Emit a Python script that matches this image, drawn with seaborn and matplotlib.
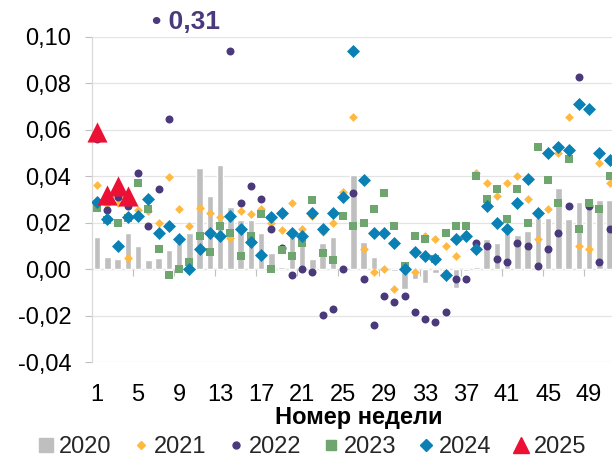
import numpy as np
import pandas as pd
import matplotlib
matplotlib.use("Agg")
import matplotlib.pyplot as plt
from matplotlib.lines import Line2D
from matplotlib.ticker import FuncFormatter
import seaborn as sns

nan = np.nan
weeks = list(range(1, 52))

y2020 = [0.014, 0.005, 0.0045, 0.0155, 0.010, 0.004, 0.0047, 0.008, 0.011, 0.0157,
         0.0433, 0.0315, 0.0447, 0.0265, 0.021, 0.021, 0.0157, 0.007, 0.001, 0.014,
         0.0126, 0.0043, 0.011, 0.014, 0.001, 0.0403, 0.0116, 0.005, 0.001, -0.001,
         -0.0086, -0.0043, -0.006, -0.0015, -0.001, -0.008, -0.001, 0.001, 0.0129, 0.011,
         0.0165, 0.0147, 0.0165, 0.0219, 0.0219, 0.035, 0.0215, 0.0289, 0.0298, 0.0298,
         0.0298]

y2021 = [0.036, 0.028, 0.0283, 0.0046, 0.0254, 0.025, 0.020, 0.0397, 0.026, 0.0186,
         0.0262, 0.024, 0.0226, 0.0133, 0.0252, 0.0237, 0.0258, 0.020, 0.0166, 0.0286,
         0.0172, 0.023, 0.016, 0.020, 0.033, 0.0655, 0.0086, -0.0014, 0.0, -0.0086,
         0.001, -0.0014, 0.0143, 0.0129, 0.010, 0.0057, 0.015, 0.0415, 0.0372, 0.0315,
         0.0372, 0.040, 0.030, 0.0129, 0.0258, 0.050, 0.0655, 0.010, 0.0086, 0.0455,
         0.0369]

y2022 = [0.056, 0.0254, 0.0312, 0.0272, 0.0415, 0.0186, 0.0343, 0.0644, 0.31, nan,
         nan, nan, nan, 0.0939, 0.0286, 0.0358, 0.030, 0.0172, 0.009, -0.0027,
         0.0, -0.0014, -0.0199, -0.017, 0.0, 0.0329, -0.0043, -0.0242, -0.0114, -0.014,
         -0.0114, -0.0186, -0.0215, -0.0229, -0.0186, -0.0043, -0.0043, 0.0114, 0.010, 0.0043,
         0.0029, 0.0114, 0.010, 0.0014, 0.0086, 0.0157, 0.0272, 0.0827, 0.0272, 0.0029,
         0.0172]

y2023 = [0.0264, 0.021, 0.020, 0.022, 0.037, 0.0257, 0.0087, -0.0026, 0.0, 0.003,
         0.0143, 0.0072, 0.0186, 0.0157, 0.0057, 0.0143, 0.0239, 0.0, 0.008, 0.0057,
         0.0114, 0.0298, 0.007, 0.0037, 0.0229, 0.0186, 0.020, 0.0258, 0.0329, 0.0186,
         0.0014, 0.0143, 0.0129, 0.0043, 0.0157, 0.0186, 0.0186, 0.040, 0.030, 0.0343,
         0.0215, 0.0343, 0.020, 0.0526, 0.0383, 0.0286, 0.0472, 0.0172, 0.0286, 0.0258,
         0.040]

y2024 = [0.029, 0.0217, 0.010, 0.0226, 0.0229, 0.030, 0.0157, 0.0186, 0.013, 0.0,
         0.0086, 0.0157, 0.0143, 0.0229, 0.0172, 0.0116, 0.0059, 0.0226, 0.0243, 0.0157,
         0.0143, 0.0243, 0.0172, 0.0243, 0.0312, 0.0938, 0.0383, 0.0157, 0.0157, 0.0114,
         0.0, 0.0072, 0.0057, 0.0043, -0.0025, 0.0129, 0.0143, 0.0086, 0.0272, 0.020,
         0.0172, 0.0286, 0.0386, 0.024, 0.0498, 0.0526, 0.0512, 0.0712, 0.0687, 0.050,
         0.0469]

weeks2025 = [1, 2, 3, 4]
y2025 = [0.059, 0.032, 0.0357, 0.0313]

xtick_labels = [1, 5, 9, 13, 17, 21, 25, 29, 33, 37, 41, 45, 49]
yticks = [-0.04, -0.02, 0.0, 0.02, 0.04, 0.06, 0.08, 0.10]
outlier_label = "• 0,31"
xlabel = "Номер недели"

C2020 = "#BFBFBF"
C2021 = "#FFB840"
C2022 = "#4A3A7C"
C2023 = "#6FA56E"
C2024 = "#0A80B4"
C2025 = "#EC1134"

sns.set_theme(style="white")
plt.rcParams["font.family"] = ["Liberation Sans", "DejaVu Sans"]

fig = plt.figure(figsize=(6.12, 4.61), dpi=100)
ax = fig.add_axes([92 / 612, 1 - 362 / 461, 533 / 612, (362 - 36.7) / 461])

sns.barplot(x=weeks, y=y2020, native_scale=True, color=C2020, saturation=1,
            width=0.65, errorbar=None, ax=ax, zorder=2)
sns.scatterplot(x=weeks, y=y2021, marker="D", s=20, color=C2021, linewidth=0, ax=ax, zorder=3)
sns.scatterplot(x=weeks, y=y2022, marker="o", s=33, color=C2022, linewidth=0, ax=ax, zorder=4)
sns.scatterplot(x=weeks, y=y2023, marker="s", s=38, color=C2023, linewidth=0, ax=ax, zorder=5)
sns.scatterplot(x=weeks, y=y2024, marker="D", s=44, color=C2024, linewidth=0, ax=ax, zorder=6)
sns.scatterplot(x=weeks2025, y=y2025, marker="^", s=210, color=C2025, linewidth=0, ax=ax,
                zorder=7, clip_on=False)

ax.set_xlim(0.5, 52.5)
ax.set_ylim(-0.04, 0.10)
ax.set_yticks(yticks)
ax.yaxis.set_major_formatter(FuncFormatter(lambda v, _: f"{v:.2f}".replace(".", ",")))
ax.set_xticks(xtick_labels)
ax.set_xticklabels([str(v) for v in xtick_labels])
ax.tick_params(axis="x", length=0, pad=16, labelsize=17, colors="black")
ax.tick_params(axis="y", length=5, width=0.8, color="#BFBFBF", direction="out",
               pad=10, labelsize=17, labelcolor="black", left=True)
ax.grid(axis="y", color="#E4E4E4", linewidth=0.9)
ax.grid(axis="x", visible=False)
ax.set_axisbelow(True)
for s in ["top", "right", "bottom"]:
    ax.spines[s].set_visible(False)
ax.spines["left"].set_color("#D9D9D9")
ax.spines["left"].set_linewidth(0.9)

ax.set_xlabel(xlabel, fontsize=17, fontweight="bold", labelpad=0, color="black")
ax.set_ylabel("")

# zero axis with category-boundary ticks
sec = ax.secondary_xaxis((0 - (-0.04)) / (0.10 - (-0.04)))
sec.set_xticks(np.arange(4.5, 53, 4))
sec.tick_params(axis="x", length=5, width=0.8, color="#BFBFBF", direction="out",
                labelbottom=False)
sec.spines["bottom"].set_color("#D0D0D0")
sec.spines["bottom"].set_linewidth(0.9)

ax.text(6.4, 0.1062, outlier_label, color=C2022, fontsize=19, fontweight="bold",
        ha="left", va="center", clip_on=False)

handles = [
    Line2D([], [], marker="s", ls="none", color=C2020, markersize=10),
    Line2D([], [], marker="D", ls="none", color=C2021, markersize=4.5),
    Line2D([], [], marker="o", ls="none", color=C2022, markersize=5),
    Line2D([], [], marker="s", ls="none", color=C2023, markersize=6.5),
    Line2D([], [], marker="D", ls="none", color=C2024, markersize=6),
    Line2D([], [], marker="^", ls="none", color=C2025, markersize=12),
]
fig.legend(handles, ["2020", "2021", "2022", "2023", "2024", "2025"], ncol=6,
           loc="center", bbox_to_anchor=(0.51, 1 - 447 / 461), frameon=False,
           fontsize=17, handlelength=0.7, handletextpad=0.2, columnspacing=0.9,
           borderpad=0, borderaxespad=0)

fig.savefig("out.png", dpi=100)
